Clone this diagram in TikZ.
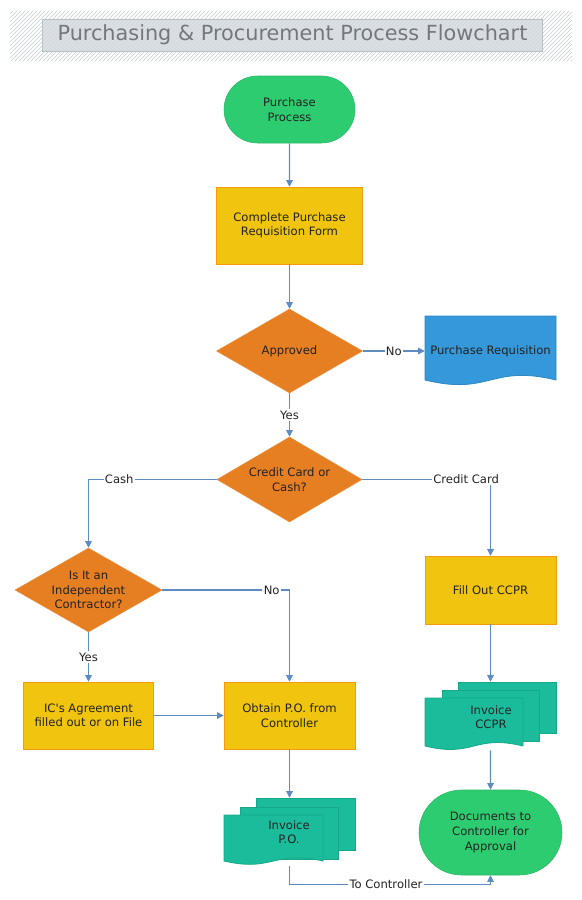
\documentclass[tikz,border=0pt]{standalone}
\usepackage{fontspec}
\setmainfont{DejaVu Sans}
\usetikzlibrary{shapes.geometric,shapes.misc,arrows.meta,patterns}

\definecolor{txt}{HTML}{222222}
\definecolor{linecol}{HTML}{5E8CC0}
\definecolor{hatch}{HTML}{C8CCD0}
\definecolor{titlefill}{HTML}{D5DADE}
\definecolor{titleedge}{HTML}{B8C0C6}
\definecolor{titletext}{HTML}{74787C}
\definecolor{termgreen}{HTML}{2ECC71}
\definecolor{termedge}{HTML}{29B765}
\definecolor{procyel}{HTML}{F1C40F}
\definecolor{procedge}{HTML}{F39C12}
\definecolor{decorange}{HTML}{E67E22}
\definecolor{decedge}{HTML}{EB8F3C}
\definecolor{docblue}{HTML}{3498DB}
\definecolor{docblueedge}{HTML}{2E89C5}
\definecolor{docteal}{HTML}{1ABC9C}
\definecolor{doctealedge}{HTML}{17A88B}

% sheet with a wavy bottom: fill, edge, x1, y1, x2, bottom y
\newcommand{\docsheet}[6]{%
  \filldraw[fill=#1, draw=#2, line width=0.6pt] (#3,#4) -- (#5,#4) -- (#5,#6)
    .. controls ({#5-0.5*(#5-#3)},{#6-0.25*(#6-#4)}) and ({#3+0.5*(#5-#3)},{#6+0.25*(#6-#4)}) .. (#3,#6) -- cycle;}

\begin{document}
\begin{tikzpicture}[x=0.75pt,y=-0.75pt,
    font=\fontsize{8.7}{10.9}\selectfont, text=txt,
    conn/.style={draw=linecol, line width=0.8pt, -{Triangle[length=5pt,width=5pt]}},
    lbl/.style={fill=white, inner sep=1pt},
    terminal/.style={rounded rectangle, fill=termgreen, draw=termedge, align=center, inner sep=0pt},
    process/.style={rectangle, fill=procyel, draw=procedge, align=center, inner sep=0pt},
    decision/.style={diamond, aspect=1.75, fill=decorange, draw=decedge, align=center, inner sep=0pt},
    docarea/.style={rectangle, align=center, inner sep=0pt}]
        \useasboundingbox (0,0) rectangle (582,900);

        % title
        \fill [pattern=north east lines, pattern color=hatch] (10,11) rectangle (572,60);
        \node [draw=titleedge, fill=titlefill, fill opacity=0.85, text opacity=1, text=titletext,
               minimum width=375pt, minimum height=24pt, inner sep=0pt,
               font=\fontsize{15.6}{18}\selectfont] (title) at (292.5,35) {Purchasing \& Procurement Process Flowchart};

        % shapes
        \node [terminal, minimum width=98.25pt, minimum height=50.25pt] (purchase) at (289.5,109.5) {Purchase\\Process};
        \node [process, minimum width=109.5pt, minimum height=57.75pt] (requisition) at (289.5,225.5) {Complete Purchase\\Requisition Form};
        \node [decision, minimum width=109.5pt, minimum height=63pt] (approved) at (289.5,351) {Approved};
        \docsheet{docblue}{docblueedge}{425}{316}{556}{380}
        \node [docarea, minimum width=98.25pt, minimum height=52.5pt] (preq) at (490.5,351) {Purchase Requisition};
        \node [decision, minimum width=108.75pt, minimum height=63.75pt] (cardcash) at (289.5,479.5) {Credit Card or\\Cash?};
        \node [decision, minimum width=110.25pt, minimum height=63pt] (contractor) at (88.5,590) {Is It an\\Independent\\Contractor?};
        \node [process, minimum width=98.25pt, minimum height=51pt] (ccpr) at (490.5,590) {Fill Out CCPR};
        \node [process, minimum width=97.5pt, minimum height=50.25pt] (agreement) at (88.5,715.5) {IC\textquotesingle s Agreement\\filled out or on File};
        \node [process, minimum width=98.25pt, minimum height=50.25pt] (obtain) at (289.5,715.5) {Obtain P.O. from\\Controller};

        % invoice sheets
        \filldraw [fill=docteal, draw=doctealedge, line width=0.6pt] (458,682) rectangle (556,733);
        \filldraw [fill=docteal, draw=doctealedge, line width=0.6pt] (442,690) rectangle (539,741);
        \docsheet{docteal}{doctealedge}{425}{698}{523}{746}
        \node [docarea, minimum width=98.25pt, minimum height=51pt] (invccpr) at (490.5,716) {};
        \node [align=center] at (491,717) {Invoice\\CCPR};
        \filldraw [fill=docteal, draw=doctealedge, line width=0.6pt] (256,798) rectangle (355,850);
        \filldraw [fill=docteal, draw=doctealedge, line width=0.6pt] (240,807) rectangle (338,859);
        \docsheet{docteal}{doctealedge}{224}{815}{323}{861}
        \node [docarea, minimum width=98.25pt, minimum height=51pt] (invpo) at (289.5,832) {};
        \node [align=center] at (289,832) {Invoice\\P.O.};
        \node [terminal, minimum width=107.25pt, minimum height=63.75pt] (docs) at (490.5,832.5) {Documents to\\Controller for\\Approval};

        % connectors
        \draw [conn] (purchase) -- (requisition);
        \draw [conn] (requisition) -- (approved);
        \draw [conn] (approved) -- node [lbl] {No} (preq);
        \draw [conn] (approved) -- node [lbl] {Yes} (cardcash);
        \draw [conn] (cardcash.west) -| node [lbl, pos=0.38] {Cash} (contractor.north);
        \draw [conn] (cardcash.east) -| node [lbl, pos=0.405] {Credit Card} (ccpr.north);
        \draw [conn] (contractor.east) -| node [lbl, pos=0.43] {No} (obtain.north);
        \draw [conn] (contractor) -- node [lbl] {Yes} (agreement);
        \draw [conn] (agreement) -- (obtain);
        \draw [conn] (obtain) -- (invpo);
        \draw [conn] (ccpr) -- (invccpr);
        \draw [conn] (invccpr) -- (docs);
        \draw [conn] (invpo.south) -- ++(0,18) -| node [lbl, pos=0.24] {To Controller} (docs.south);
    \end{tikzpicture}
\end{document}
